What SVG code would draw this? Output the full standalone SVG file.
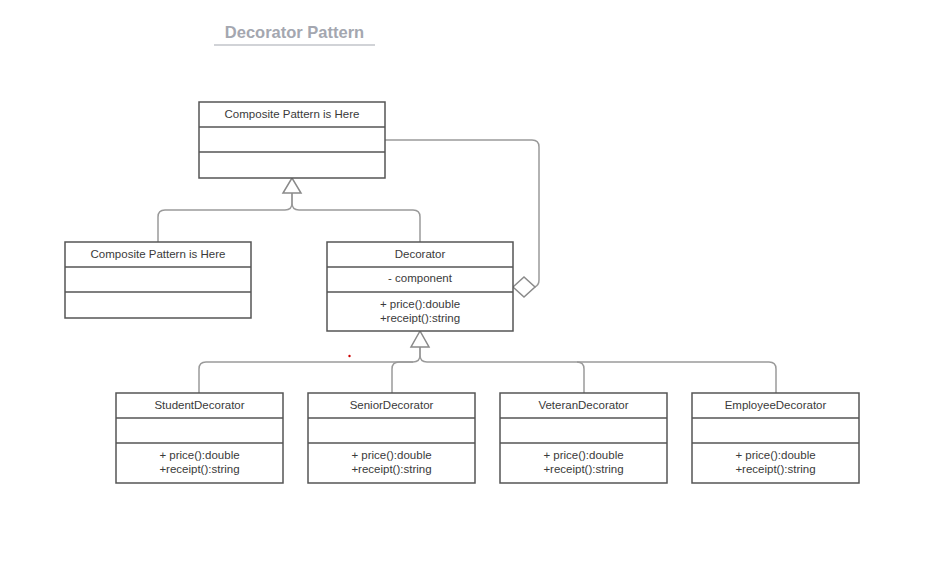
<svg xmlns="http://www.w3.org/2000/svg" width="931" height="587" viewBox="0 0 931 587">
  <style>
    .box { fill: #ffffff; stroke: #555555; stroke-width: 1.5; }
    .div { stroke: #555555; stroke-width: 1.5; }
    .txt { font-family: "Liberation Sans", Arial, sans-serif; font-size: 11.5px; fill: #3a3a3a; text-anchor: middle; }
    .conn { fill: none; stroke: #9a9a9a; stroke-width: 1.5; }
    .head { fill: #ffffff; stroke: #8a8a8a; stroke-width: 1.5; }
    .title { font-family: "Liberation Sans", Arial, sans-serif; font-size: 16.5px; font-weight: bold; fill: #a4a7b0; text-anchor: middle; }
  </style>
  <rect width="931" height="587" fill="#ffffff"/>

  <!-- title -->
  <g id="title">
    <text class="title" x="294.5" y="38">Decorator Pattern</text>
    <line x1="214" y1="45" x2="375" y2="45" stroke="#a4a7b0" stroke-width="1.2"/>
  </g>

  <!-- connectors -->
  <g id="connectors">
    <!-- generalization to top component -->
    <path class="conn" d="M292,193 V203 Q292,210 299,210 H413 Q420,210 420,217 V242"/>
    <path class="conn" d="M292,193 V203 Q292,210 285,210 H165 Q158,210 158,217 V242"/>
    <!-- aggregation from Decorator back to component -->
    <path class="conn" d="M385,140 H532 Q539,140 539,147 V280 Q539,285 535,287"/>
    <polygon class="head" points="513,287 524,277 535,287 524,297"/>
    <polygon class="head" points="292,178 283,193 301,193"/>
    <!-- generalization to Decorator -->
    <path class="conn" d="M420,347 V355 Q420,362 413,362 H206 Q199,362 199,369 V393"/>
    <path class="conn" d="M413,362 H399 Q392,362 392,369 V393"/>
    <path class="conn" d="M420,347 V355 Q420,362 427,362 H769 Q776,362 776,369 V393"/>
    <path class="conn" d="M577,362 Q584,362 584,369 V393"/>
    <polygon class="head" points="420,331 411,347 429,347"/>
  </g>

  <g id="component-top">
    <rect class="box" x="199" y="102" width="186" height="76"/>
    <line class="div" x1="199" y1="127" x2="385" y2="127"/>
    <line class="div" x1="199" y1="152" x2="385" y2="152"/>
    <text class="txt" x="292" y="118">Composite Pattern is Here</text>
  </g>

  <g id="component-left">
    <rect class="box" x="65" y="242" width="186" height="76"/>
    <line class="div" x1="65" y1="267" x2="251" y2="267"/>
    <line class="div" x1="65" y1="292" x2="251" y2="292"/>
    <text class="txt" x="158" y="258">Composite Pattern is Here</text>
  </g>

  <g id="decorator">
    <rect class="box" x="327" y="242" width="186" height="89"/>
    <line class="div" x1="327" y1="267" x2="513" y2="267"/>
    <line class="div" x1="327" y1="292" x2="513" y2="292"/>
    <text class="txt" x="420" y="258">Decorator</text>
    <text class="txt" x="420" y="282">- component</text>
    <text class="txt" x="420" y="308">+ price():double</text>
    <text class="txt" x="420" y="322">+receipt():string</text>
  </g>

  <circle cx="349.5" cy="356" r="1.2" fill="#cc0000"/>

  <g id="student-decorator">
    <rect class="box" x="116" y="393" width="167" height="90"/>
    <line class="div" x1="116" y1="418" x2="283" y2="418"/>
    <line class="div" x1="116" y1="443" x2="283" y2="443"/>
    <text class="txt" x="199.5" y="409">StudentDecorator</text>
    <text class="txt" x="199.5" y="459">+ price():double</text>
    <text class="txt" x="199.5" y="473">+receipt():string</text>
  </g>

  <g id="senior-decorator">
    <rect class="box" x="308" y="393" width="167" height="90"/>
    <line class="div" x1="308" y1="418" x2="475" y2="418"/>
    <line class="div" x1="308" y1="443" x2="475" y2="443"/>
    <text class="txt" x="391.5" y="409">SeniorDecorator</text>
    <text class="txt" x="391.5" y="459">+ price():double</text>
    <text class="txt" x="391.5" y="473">+receipt():string</text>
  </g>

  <g id="veteran-decorator">
    <rect class="box" x="500" y="393" width="167" height="90"/>
    <line class="div" x1="500" y1="418" x2="667" y2="418"/>
    <line class="div" x1="500" y1="443" x2="667" y2="443"/>
    <text class="txt" x="583.5" y="409">VeteranDecorator</text>
    <text class="txt" x="583.5" y="459">+ price():double</text>
    <text class="txt" x="583.5" y="473">+receipt():string</text>
  </g>

  <g id="employee-decorator">
    <rect class="box" x="692" y="393" width="167" height="90"/>
    <line class="div" x1="692" y1="418" x2="859" y2="418"/>
    <line class="div" x1="692" y1="443" x2="859" y2="443"/>
    <text class="txt" x="775.5" y="409">EmployeeDecorator</text>
    <text class="txt" x="775.5" y="459">+ price():double</text>
    <text class="txt" x="775.5" y="473">+receipt():string</text>
  </g>
</svg>
